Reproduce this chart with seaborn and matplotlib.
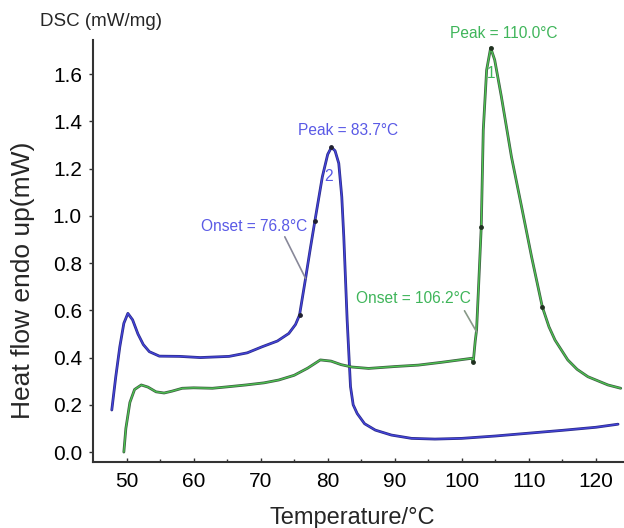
import numpy as np
import pandas as pd
import matplotlib
matplotlib.use("Agg")
import matplotlib.pyplot as plt
import seaborn as sns

# ---- data ----
blue_T = [47.8, 48.4, 49.0, 49.6, 50.2, 50.9, 51.7, 52.5, 53.4, 54.9, 57.9, 61.0, 65.3, 68.0,
          70.25, 72.5, 74.2, 75.2, 75.8, 76.7, 77.4, 78.1, 79.2, 80.0, 80.56, 81.1, 81.65,
          82.1, 82.4, 82.9, 83.4, 83.8, 84.4, 85.5, 87.1, 89.5, 92.5, 96.0, 100.0, 105.0,
          110.0, 115.0, 120.0, 123.3]
blue_H = [0.178, 0.32, 0.446, 0.545, 0.587, 0.56, 0.50, 0.455, 0.425, 0.406, 0.405, 0.40, 0.405, 0.42,
          0.446, 0.47, 0.502, 0.54, 0.58, 0.735, 0.86, 0.98, 1.165, 1.26, 1.29, 1.275, 1.222,
          1.08, 0.911, 0.559, 0.277, 0.20, 0.163, 0.12, 0.093, 0.072, 0.058, 0.055, 0.058, 0.068,
          0.08, 0.092, 0.105, 0.118]

green_T = [49.6, 49.9, 50.5, 51.2, 52.2, 53.2, 54.4, 55.6, 56.8, 58.3, 60.0, 62.8, 65.0, 67.8,
           70.5, 72.7, 75.0, 77.0, 78.9, 80.5, 82.0, 83.6, 86.1, 90.0, 93.5, 97.0, 101.5, 101.7,
           102.0, 102.2, 102.5, 102.9, 103.2, 103.7, 104.3, 104.9, 105.9, 107.4, 108.9, 110.4,
           112.0, 113.0, 113.9, 115.8, 117.2, 118.8, 121.8, 123.7]
green_H = [0.0, 0.10, 0.21, 0.265, 0.284, 0.275, 0.255, 0.25, 0.258, 0.27, 0.272, 0.27, 0.276, 0.284,
           0.293, 0.305, 0.325, 0.355, 0.39, 0.385, 0.37, 0.36, 0.354, 0.362, 0.368, 0.38, 0.397, 0.38,
           0.47, 0.516, 0.70, 0.954, 1.363, 1.617, 1.711, 1.66, 1.504, 1.25, 1.04, 0.827,
           0.615, 0.53, 0.474, 0.39, 0.35, 0.319, 0.284, 0.27]

blue_dot_T = [75.8, 78.1, 80.56]
blue_dot_H = [0.58, 0.98, 1.29]
green_dot_T = [101.7, 102.9, 104.3, 112.0]
green_dot_H = [0.38, 0.954, 1.711, 0.615]

x_ticks = [50, 60, 70, 80, 90, 100, 110, 120]
y_ticks = [0.0, 0.2, 0.4, 0.6, 0.8, 1.0, 1.2, 1.4, 1.6]

blue_peak_text = "Peak = 83.7°C"
blue_onset_text = "Onset = 76.8°C"
green_peak_text = "Peak = 110.0°C"
green_onset_text = "Onset = 106.2°C"

BLUE_TXT = "#5a5ae6"
BLUE_LINE = "#4444dd"
BLUE_EDGE = "#2c2c88"
GREEN_TXT = "#3fb55a"
GREEN_LINE = "#4cc650"
GREEN_EDGE = "#3f5f44"

sns.set_style("ticks")
plt.rcParams['font.family'] = ['Liberation Sans', 'DejaVu Sans']

fig = plt.figure(figsize=(6.24, 5.28), dpi=100)
ax = fig.add_axes([93/624, 66/528, 1 - 93/624 - 0.002, (462-40)/528])

dfb = pd.DataFrame({"T": blue_T, "H": blue_H})
dfg = pd.DataFrame({"T": green_T, "H": green_H})

sns.lineplot(data=dfb, x="T", y="H", ax=ax, color=BLUE_EDGE, lw=2.0, sort=False, estimator=None)
sns.lineplot(data=dfb, x="T", y="H", ax=ax, color=BLUE_LINE, lw=0.9, sort=False, estimator=None)
sns.lineplot(data=dfg, x="T", y="H", ax=ax, color=GREEN_EDGE, lw=2.0, sort=False, estimator=None)
sns.lineplot(data=dfg, x="T", y="H", ax=ax, color=GREEN_LINE, lw=0.9, sort=False, estimator=None)

ax.scatter(blue_dot_T, blue_dot_H, s=6, color="#202030", zorder=5)
ax.scatter(green_dot_T, green_dot_H, s=6, color="#203020", zorder=5)

ax.set_xlim(45.0, 124.0)
ax.set_ylim(-0.042, 1.744)
ax.set_xticks(x_ticks)
ax.set_xticks([55, 65, 75, 85, 95, 105, 115], minor=True)
ax.set_yticks(y_ticks)
ax.set_yticklabels([f"{v:.1f}" for v in y_ticks])
ax.tick_params(axis="x", which="major", direction="in", length=3, width=1, pad=7, labelsize=15, colors="#333333", labelcolor="black")
ax.tick_params(axis="x", which="minor", direction="in", length=2, width=1, colors="#333333")
ax.tick_params(axis="y", direction="out", length=3, width=1, pad=5, labelsize=15, colors="#333333", labelcolor="black")
for s in ["top", "right"]:
    ax.spines[s].set_visible(False)
for s in ["left", "bottom"]:
    ax.spines[s].set_color("#333333")
    ax.spines[s].set_linewidth(1.5)
ax.set_xlabel("")
ax.set_ylabel("")

# annotations
ax.text(83.1, 1.363, blue_peak_text, color=BLUE_TXT, fontsize=11.2, ha="center", va="center")
ax.text(80.2, 1.168, "2", color=BLUE_TXT, fontsize=11.2, ha="center", va="center")
ax.text(69.0, 0.954, blue_onset_text, color=BLUE_TXT, fontsize=11.2, ha="center", va="center")
ax.plot([73.6, 76.7], [0.911, 0.735], color="#888899", lw=1.2)
ax.text(106.3, 1.772, green_peak_text, color=GREEN_TXT, fontsize=11.2, ha="center", va="center", clip_on=False)
ax.text(104.3, 1.603, "1", color=GREEN_TXT, fontsize=11.2, ha="center", va="center")
ax.text(92.85, 0.648, green_onset_text, color=GREEN_TXT, fontsize=11.2, ha="center", va="center")
ax.plot([100.4, 102.2], [0.598, 0.509], color="#889988", lw=1.2)

fig.text(40/624, 1 - 21.7/528, "DSC (mW/mg)", fontsize=13.5, ha="left", va="center")
fig.text(23/624, 1 - 280/528, "Heat flow endo up(mW)", fontsize=19, rotation=90, ha="center", va="center")
fig.text(352/624, 1 - 518/528, "Temperature/°C", fontsize=17, ha="center", va="center")

fig.savefig("out.png", dpi=100)
